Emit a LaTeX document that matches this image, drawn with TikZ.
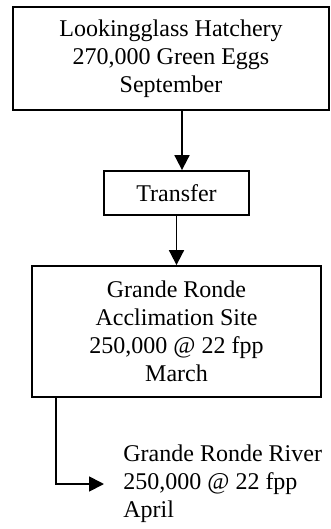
\documentclass[tikz,border=0pt]{standalone}
\usepackage{fontspec}
\setmainfont{Liberation Serif}
\usetikzlibrary{arrows.meta}

\begin{document}
\begin{tikzpicture}[x=0.5pt,y=-0.5pt,
    every node/.style={font=\fontsize{12}{14}\selectfont},
    box/.style={draw,line width=0.9pt,align=center,inner sep=0pt},
    flow/.style={line width=0.9pt,-{Triangle[length=7.5pt,width=7.5pt]}}]
    \useasboundingbox (0,0) rectangle (331,529);
    % stages
    \node[box,line width=1.3pt,minimum width=158pt,minimum height=51.5pt] (hatchery) at (171,58.5)
        {Lookingglass Hatchery\\270,000 Green Eggs\\September};
    \node[box,minimum width=72.5pt,minimum height=22pt] (transfer) at (176.5,193) {Transfer};
    \node[box,minimum width=144.5pt,minimum height=65.5pt] (site) at (176.5,331.5)
        {Grande Ronde\\Acclimation Site\\250,000 @ 22 fpp\\March};
    \node[align=left,inner sep=0pt,anchor=west] (river) at (123,484)
        {Grande Ronde River\\250,000 @ 22 fpp\\April};
    % arrows
    \coordinate (drop) at (56,397);
    \draw[flow] ([xshift=5.5pt]hatchery.south) -- ([xshift=5.5pt]hatchery.south |- transfer.north);
    \draw[flow] (transfer.south) -- (site.north);
    \draw[flow,shorten >=9.5pt] (drop) |- (river.west);
\end{tikzpicture}
\end{document}
